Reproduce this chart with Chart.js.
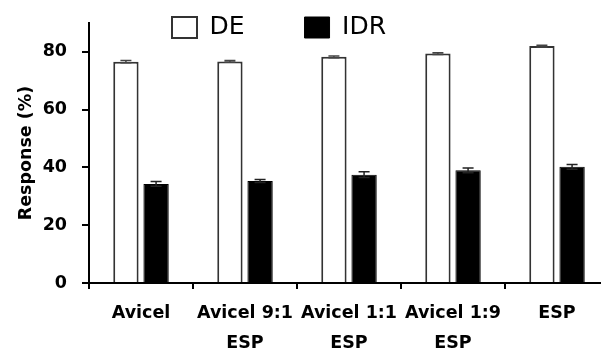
<!DOCTYPE html>
<html><head><meta charset="utf-8">
<script src="https://cdn.jsdelivr.net/npm/chart.js@4"></script>
<style>html,body{margin:0;padding:0;background:#fff;overflow:hidden;}</style></head>
<body><canvas id="c" width="612" height="348"></canvas>
<script>
const categories = [["Avicel"], ["Avicel 9:1", "ESP"], ["Avicel 1:1", "ESP"], ["Avicel 1:9", "ESP"], ["ESP"]];
const seriesNames = ["DE", "IDR"];
const deValues = [76.6, 76.7, 78.3, 79.4, 82.0];
const deErrors = [0.4, 0.3, 0.3, 0.3, 0.3];
const idrValues = [34.3, 35.3, 37.5, 39.0, 40.2];
const idrErrors = [0.8, 0.5, 1.0, 0.8, 0.8];
const yTicks = [0, 20, 40, 60, 80];
const yMax = 90;

const FONT = "'DejaVu Sans', sans-serif";

const errorBars = {
  id: 'errorBars',
  afterDatasetsDraw(chart) {
    const ctx = chart.ctx, ys = chart.scales.y;
    chart.data.datasets.forEach((ds, di) => {
      const meta = chart.getDatasetMeta(di);
      meta.data.forEach((bar, i) => {
        const v = ds.data[i], e = ds.errors[i];
        const t = ys.getPixelForValue(v + e), b = ys.getPixelForValue(v - e);
        const x = bar.x, hw = 5.5;
        ctx.save();
        ctx.strokeStyle = ds.errorColor;
        ctx.lineWidth = 1.5;
        ctx.beginPath();
        ctx.moveTo(x, t); ctx.lineTo(x, b);
        ctx.moveTo(x - hw, t); ctx.lineTo(x + hw, t);
        ctx.moveTo(x - hw, b); ctx.lineTo(x + hw, b);
        ctx.stroke();
        ctx.restore();
      });
    });
  }
};

const legendPlace = {
  id: 'legendPlace',
  afterLayout(chart) {
    const lg = chart.legend;
    const p = chart.options.plugins.legend.labels.padding;
    lg.left = 172 - p;
    lg.top = 15 - p;
    lg.right = 1000;
    lg.bottom = 120;
    lg.width = lg.right - lg.left;
    lg.height = lg.bottom - lg.top;
  }
};

new Chart(document.getElementById('c'), {
  type: 'bar',
  data: {
    labels: categories,
    datasets: [
      { label: seriesNames[0], data: deValues, errors: deErrors, errorColor: '#444',
        backgroundColor: '#ffffff', borderColor: '#333333', borderWidth: 2 },
      { label: seriesNames[1], data: idrValues, errors: idrErrors, errorColor: '#222',
        backgroundColor: '#000000', borderColor: '#000000', borderWidth: 1 }
    ]
  },
  options: {
    responsive: false,
    animation: false,
    devicePixelRatio: 1,
    layout: { padding: { top: 0, right: 3, left: 0, bottom: 0 } },
    datasets: { bar: { categoryPercentage: 0.58, barPercentage: 0.84 } },
    plugins: {
      tooltip: { enabled: false },
      legend: {
        position: 'top',
        align: 'start',
        maxHeight: 23,
        labels: {
          boxWidth: 25, boxHeight: 21, padding: 60,
          color: '#000', font: { family: FONT, size: 25 }
        }
      }
    },
    scales: {
      x: {
        afterFit(s) { s.height = 65; },
        border: { color: '#000', width: 2 },
        grid: { offset: true, drawOnChartArea: false, drawTicks: true, tickLength: 6, color: '#000', lineWidth: 2 },
        ticks: { color: '#000', padding: 9.5, maxRotation: 0, autoSkip: false,
                 font: { family: FONT, size: 17.5, weight: 'bold', lineHeight: 1.71 } }
      },
      y: {
        min: 0, max: yMax, bounds: 'data',
        afterFit(s) { s.width = 89; s.paddingTop = 0; s.paddingBottom = 0; },
        afterBuildTicks(s) { s.ticks = yTicks.map(v => ({ value: v })); },
        border: { color: '#000', width: 2 },
        grid: { drawOnChartArea: false, drawTicks: true, tickLength: 7, color: '#000', lineWidth: 2 },
        ticks: { color: '#000', padding: 15, font: { family: FONT, size: 17.5, weight: 'bold' } },
        title: { display: true, text: 'Response (%)', color: '#000', padding: { top: 15.5, bottom: 0 },
                 font: { family: FONT, size: 17.5, weight: 'bold' } }
      }
    }
  },
  plugins: [errorBars, legendPlace]
});
</script>
</body></html>
